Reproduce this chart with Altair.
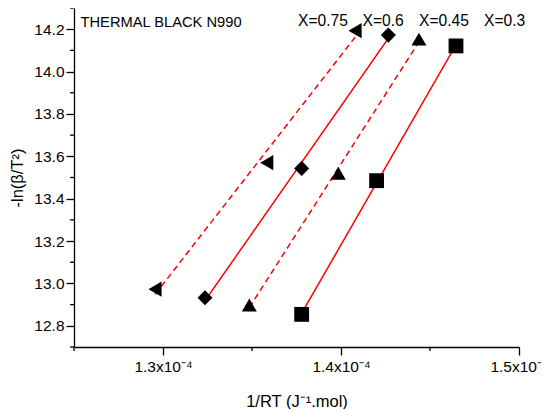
import altair as alt
import pandas as pd

# ---- data ----
series = ["X=0.75", "X=0.6", "X=0.45", "X=0.3"]
x_075 = [1.2955e-4, 1.3583e-4, 1.4079e-4]
y_075 = [12.973, 13.570, 14.193]
x_06 = [1.3236e-4, 1.3779e-4, 1.4266e-4]
y_06 = [12.932, 13.543, 14.172]
x_045 = [1.3485e-4, 1.3985e-4, 1.4438e-4]
y_045 = [12.898, 13.520, 14.153]
x_03 = [1.3779e-4, 1.4200e-4, 1.4646e-4]
y_03 = [12.854, 13.485, 14.121]

x_major = [1.30e-4, 1.40e-4, 1.50e-4]
x_minor = [1.25e-4, 1.35e-4, 1.45e-4]
y_major = [12.8, 13.0, 13.2, 13.4, 13.6, 13.8, 14.0, 14.2]
y_minor = [12.7, 12.9, 13.1, 13.3, 13.5, 13.7, 13.9, 14.1, 14.3]

shapes = ["triangle-left", "diamond", "triangle-up", "square"]
sizes = [230, 220, 220, 92]
dashes = [[6, 4], [1, 0], [6, 4], [1, 0]]

rows = []
for s, xs, ys in zip(series, [x_075, x_06, x_045, x_03], [y_075, y_06, y_045, y_03]):
    for xv, yv in zip(xs, ys):
        rows.append({"series": s, "x": xv, "y": yv})
df = pd.DataFrame(rows)

FONT = "Liberation Sans"
W, H = 445, 339

xscale = alt.Scale(domain=[1.25e-4, 1.5e-4], nice=False, zero=False)
yscale = alt.Scale(domain=[12.7, 14.3], nice=False, zero=False)

xaxis = alt.Axis(
    values=x_major,
    labelExpr="format(datum.value*1e4, '.1f') + 'x10\u207b\u2074'",
    tickSize=8,
    title="1/RT (J\u207b\u00b9.mol)",
    grid=False,
    labelPadding=4,
    titlePadding=19,
    labelFlush=False,
    labelOverlap=False,
)
yaxis = alt.Axis(
    values=y_major,
    format=".1f",
    tickSize=8,
    title="-ln(\u03b2/T\u00b2)",
    grid=False,
    labelPadding=2,
    titlePadding=8,
    labelFlush=False,
    labelOverlap=False,
)

base = alt.Chart(df)

lines = base.transform_regression(
    "x", "y", groupby=["series"]
).mark_line(color="#ff0000", strokeWidth=1.5).encode(
    x=alt.X("x:Q", scale=xscale, axis=xaxis),
    y=alt.Y("y:Q", scale=yscale, axis=yaxis),
    strokeDash=alt.StrokeDash("series:N", scale=alt.Scale(domain=series, range=dashes), legend=None),
)

points = base.mark_point(filled=True, color="black", opacity=1, strokeWidth=0).encode(
    x=alt.X("x:Q", scale=xscale, axis=xaxis),
    y=alt.Y("y:Q", scale=yscale, axis=yaxis),
    shape=alt.Shape("series:N", scale=alt.Scale(domain=series, range=shapes), legend=None),
    size=alt.Size("series:N", scale=alt.Scale(domain=series, range=sizes), legend=None),
)

# minor ticks (short, unlabeled)
y_minor_ticks = alt.Chart(pd.DataFrame({"v": y_minor})).mark_rule(
    color="black", strokeWidth=1.3
).encode(
    y=alt.Y("v:Q", scale=yscale, axis=yaxis),
    x=alt.value(0), x2=alt.value(-4),
)
x_minor_ticks = alt.Chart(pd.DataFrame({"v": x_minor})).mark_rule(
    color="black", strokeWidth=1.3
).encode(
    x=alt.X("v:Q", scale=xscale, axis=xaxis),
    y=alt.value(H), y2=alt.value(H + 4),
)

def label(txt, px, py, fs):
    return alt.Chart(pd.DataFrame({"t": [txt]})).mark_text(
        align="left", baseline="alphabetic", font=FONT, fontSize=fs, color="black"
    ).encode(text="t:N", x=alt.value(px), y=alt.value(py))

texts = [
    label("THERMAL BLACK N990", 6.5, 18.5, 14.7),
    label(series[0], 224, 18, 15.6),
    label(series[1], 288.5, 18, 15.6),
    label(series[2], 345, 18, 15.6),
    label(series[3], 410, 18, 15.6),
]

chart = alt.layer(lines, points, y_minor_ticks, x_minor_ticks, *texts).properties(
    width=W, height=H,
    autosize="none",
    padding={"left": 66, "top": 0, "right": 22, "bottom": 62},
).configure_view(stroke=None).configure_axis(
    labelFont=FONT, titleFont=FONT, labelFontSize=15.5, titleFontSize=16.5,
    titleFontWeight="normal", labelColor="black", titleColor="black",
    domainColor="black", tickColor="black", domainWidth=1.3, tickWidth=1.3,
)

chart.save("out.html", embed_options={"renderer": "svg", "actions": False})
